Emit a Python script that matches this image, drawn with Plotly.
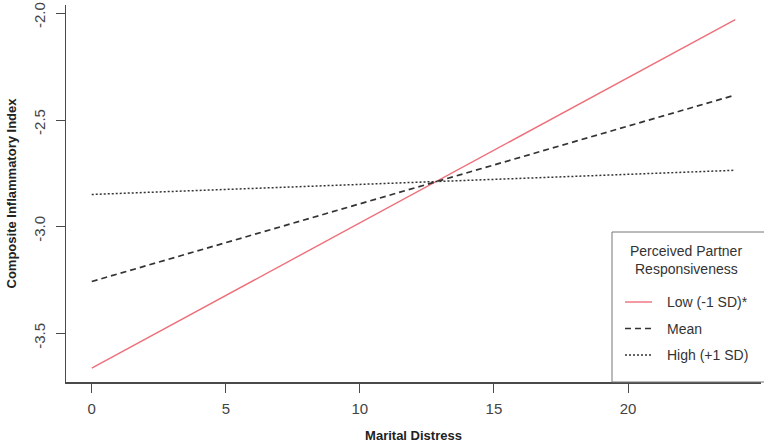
import plotly.graph_objects as go

# Data
x_vals = [0, 24]
low_vals = [-3.66, -2.03]
mean_vals = [-3.255, -2.383]
high_vals = [-2.848, -2.735]
series_names = ["Low (-1 SD)*", "Mean", "High (+1 SD)"]
legend_title = ["Perceived Partner", "Responsiveness"]
x_ticks = [0, 5, 10, 15, 20]
y_ticks = [-3.5, -3.0, -2.5, -2.0]
y_tick_labels = ["-3.5", "-3.0", "-2.5", "-2.0"]

W, H = 764, 448
ML, MR, MT, MB = 66, 3, 5, 66
PW, PH = W - ML - MR, H - MT - MB

def px(xp):
    return (xp - ML) / PW

def py(yp):
    return (H - MB - yp) / PH

font_family = "Liberation Sans, Arial, sans-serif"
axis_col = "#4a4a4a"
colors = ["#EE6F7A", "#333333", "#333333"]
widths = [1.4, 1.7, 1.5]
dashes = ["solid", "6px,4px", "2px,2px"]

fig = go.Figure()
for vals, name, c, w, d in zip([low_vals, mean_vals, high_vals], series_names, colors, widths, dashes):
    fig.add_trace(go.Scatter(x=x_vals, y=vals, mode="lines", name=name,
                             line=dict(color=c, width=w, dash=d), showlegend=False,
                             hoverinfo="skip"))

# custom legend box (R-style)
shapes = [dict(type="rect", xref="paper", yref="paper",
               x0=px(612), x1=px(780), y0=py(382), y1=py(232),
               line=dict(color="#777777", width=1), fillcolor="white", layer="above")]
annotations = []
for i, t in enumerate(legend_title):
    annotations.append(dict(text=t, xref="paper", yref="paper", x=px(686), y=py(251 + 18 * i),
                            xanchor="center", yanchor="middle", showarrow=False,
                            font=dict(size=14, color="#333333", family=font_family)))
for i, (name, c, w, d) in enumerate(zip(series_names, colors, widths, dashes)):
    yy = 302 + 26.5 * i
    shapes.append(dict(type="line", xref="paper", yref="paper",
                       x0=px(625), x1=px(652), y0=py(yy), y1=py(yy),
                       line=dict(color=c, width=w, dash=d), layer="above"))
    annotations.append(dict(text=name, xref="paper", yref="paper", x=px(665), y=py(yy),
                            xanchor="left", yanchor="middle", showarrow=False,
                            font=dict(size=14, color="#333333", family=font_family)))

fig.update_layout(
    width=W, height=H,
    margin=dict(l=ML, r=MR, t=MT, b=MB, autoexpand=False),
    paper_bgcolor="white", plot_bgcolor="white",
    font=dict(family=font_family, color="#333333"),
    showlegend=False,
    shapes=shapes, annotations=annotations,
)
fig.update_xaxes(
    range=[-0.96, 24.96], tickvals=x_ticks, ticktext=[str(v) for v in x_ticks],
    showline=True, linecolor=axis_col, linewidth=1.5,
    ticks="outside", ticklen=9, tickcolor=axis_col, tickwidth=1,
    showgrid=False, zeroline=False, ticklabelstandoff=3, ticklabeloverflow="allow",
    tickfont=dict(size=15, color="#444444"),
    title=dict(text="<b>Marital Distress</b>", font=dict(size=13, color="#222222"), standoff=15),
)
fig.update_yaxes(
    range=[-3.725, -1.962], tickvals=y_ticks,
    ticktext=[t + "\u00a0\u00a0" for t in y_tick_labels],
    tickangle=-90,
    showline=True, linecolor=axis_col, linewidth=1.5,
    ticks="outside", ticklen=9, tickcolor=axis_col, tickwidth=1,
    showgrid=False, zeroline=False, ticklabelstandoff=5, ticklabeloverflow="allow",
    tickfont=dict(size=15, color="#444444"),
    title=dict(text="<b>Composite Inflammatory Index</b>", font=dict(size=13, color="#222222"), standoff=11),
)

fig.write_html("out.html", config={"displayModeBar": False, "staticPlot": True},
               post_script="document.body.style.margin='0';document.body.style.overflow='hidden';")
